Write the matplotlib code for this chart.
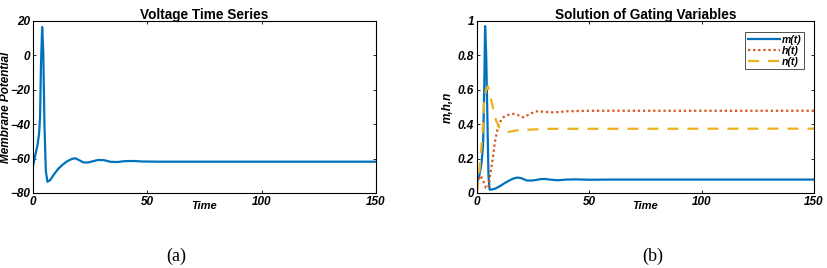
import matplotlib
matplotlib.use("Agg")
import matplotlib.pyplot as plt

# ───────── data ─────────
t_v = [0, 1, 2, 2.7, 3.1, 3.5, 4.0, 4.5, 5.0, 5.6, 6.3, 7.5, 9, 11, 13, 15, 17, 18.5,
       20, 22, 24, 26, 28.5, 31, 34, 37, 40, 44, 48, 55, 70, 100, 150]
v = [-64.5, -58, -52, -45, -35, -5, 16.5, 2, -40, -67, -73.5, -72.5, -69.5, -66, -63.5,
     -61.5, -60.2, -59.8, -60.8, -62.2, -62.3, -61.6, -60.8, -60.9, -61.9, -62.0, -61.5,
     -61.4, -61.7, -61.8, -61.8, -61.8, -61.8]

t_g = [0, 1, 2, 2.7, 3.2, 3.6, 4.1, 4.6, 5.1, 5.6, 6.5, 8, 10, 12, 14, 16, 18, 20, 22,
       24, 26, 28, 30, 33, 36, 40, 44, 50, 60, 150]
m = [0.06, 0.10, 0.17, 0.28, 0.6, 0.97, 0.8, 0.45, 0.1, 0.02, 0.02, 0.025, 0.038, 0.055,
     0.07, 0.083, 0.09, 0.085, 0.073, 0.072, 0.075, 0.08, 0.082, 0.077, 0.074, 0.078,
     0.079, 0.077, 0.078, 0.078]

t_h = [0, 0.7, 1.5, 2.5, 3.3, 4.0, 5.0, 5.8, 7, 8, 9.6, 11.7, 14, 16, 19, 20.5, 23, 26,
       30, 34, 40, 50, 150]
h = [0.05, 0.08, 0.10, 0.08, 0.05, 0.03, 0.03, 0.1, 0.2, 0.3, 0.4, 0.44, 0.455, 0.46,
     0.45, 0.44, 0.455, 0.475, 0.472, 0.468, 0.475, 0.478, 0.478]

t_n = [0, 1.3, 2.5, 3.1, 4.0, 4.8, 5.8, 7, 8.5, 10, 12, 14, 17, 20, 24, 28, 35, 150]
n = [0.0, 0.16, 0.36, 0.52, 0.6, 0.62, 0.57, 0.5, 0.42, 0.38, 0.36, 0.355, 0.362,
     0.37, 0.368, 0.372, 0.373, 0.374]

# ───────── style ─────────
plt.rcParams['font.family'] = ['Liberation Sans', 'DejaVu Sans']
C1, C2, C3 = '#0072BD', '#D95319', '#EDB120'
SERIF = ['Liberation Serif', 'DejaVu Serif']


def style_axes(ax):
    ax.tick_params(direction='in', top=True, right=True, length=2.5, width=0.6, pad=2)
    for lab in ax.get_xticklabels() + ax.get_yticklabels():
        lab.set_fontsize(8.5)
        lab.set_fontweight('bold')
        lab.set_fontstyle('italic')
    for sp in ax.spines.values():
        sp.set_linewidth(0.8)


fig = plt.figure(figsize=(8.27, 2.68), dpi=100)

# ───────── (a) voltage ─────────
ax1 = fig.add_axes([0.0399, 0.2799, 0.4148, 0.6418])
ax1.plot(t_v, v, color=C1, lw=1.6)
ax1.set_xlim(0, 150)
ax1.set_ylim(-80, 20)
ax1.set_xticks([0, 50, 100, 150])
ax1.set_yticks([-80, -60, -40, -20, 0, 20])
style_axes(ax1)
ax1.set_title("Voltage Time Series", fontsize=9.8, fontweight='bold', pad=1.5)
ax1.set_xlabel("Time", fontsize=8, fontweight='bold', fontstyle='italic', labelpad=-5)
ax1.set_ylabel("Membrane Potential", fontsize=8.5, fontweight='bold', fontstyle='italic',
               labelpad=-1)

# ───────── (b) gating variables ─────────
ax2 = fig.add_axes([0.5768, 0.2799, 0.4075, 0.6418])
ax2.plot(t_g, m, color=C1, lw=1.6, label='m(t)')
ax2.plot(t_h, h, color=C2, lw=1.6, ls=(0, (1, 1.3)), label='h(t)')
ax2.plot(t_n, n, color=C3, lw=1.6, ls=(0, (5, 4)), label='n(t)')
ax2.set_xlim(0, 150)
ax2.set_ylim(0, 1)
ax2.set_xticks([0, 50, 100, 150])
ax2.set_yticks([0, 0.2, 0.4, 0.6, 0.8, 1])
ax2.set_yticklabels(['0', '0.2', '0.4', '0.6', '0.8', '1'])
style_axes(ax2)
ax2.set_title("Solution of Gating Variables", fontsize=9.8, fontweight='bold', pad=1.5)
ax2.set_xlabel("Time", fontsize=8, fontweight='bold', fontstyle='italic', labelpad=-5)
ax2.set_ylabel("m,h,n", fontsize=8.5, fontweight='bold', fontstyle='italic', labelpad=3)
leg = ax2.legend(loc='upper right', prop=dict(size=7.5, weight='bold', style='italic'),
                 frameon=True, fancybox=False, edgecolor='black', handlelength=3.1,
                 borderpad=0.25, labelspacing=0.1, handletextpad=0.15,
                 borderaxespad=0, bbox_to_anchor=(0.97, 0.935))
leg.get_frame().set_linewidth(0.6)

# ───────── sub-captions ─────────
fig.text(176 / 827, 1 - 256 / 268, "(a)", family=SERIF, fontsize=13, ha='center', va='center')
fig.text(653 / 827, 1 - 256 / 268, "(b)", family=SERIF, fontsize=13, ha='center', va='center')

fig.savefig("out.png", dpi=100)
